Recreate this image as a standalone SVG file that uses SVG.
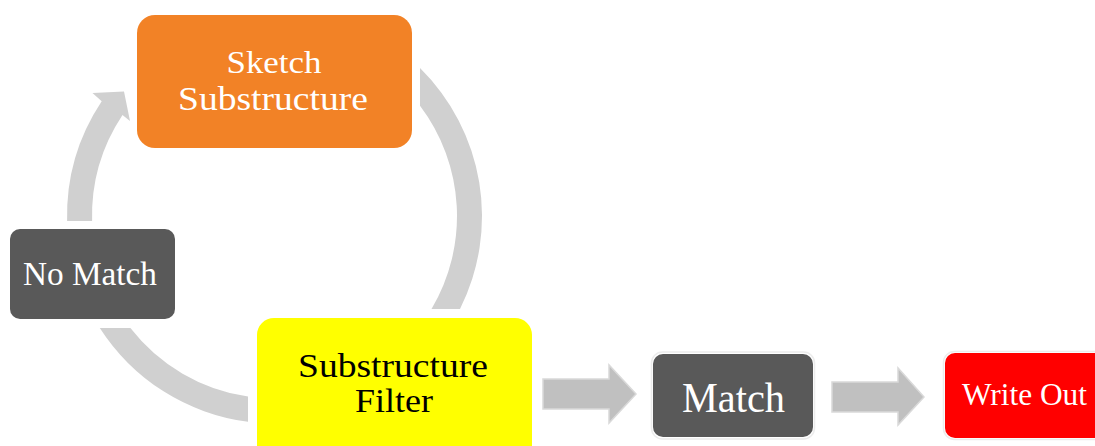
<svg xmlns="http://www.w3.org/2000/svg" width="1095" height="446" viewBox="0 0 1095 446">
  <style>
    .ring { fill: #d0d0d0; }
    .flow { fill: #c0c0c0; stroke: #d9d9d9; stroke-width: 1.5; stroke-linejoin: miter; }
    .lbl { font-family: "Liberation Serif", "Times New Roman", serif; text-anchor: middle; }
    .light { fill: #ffffff; }
    .dark { fill: #000000; }
    .halo { fill: none; stroke: #ececec; stroke-width: 1.5; }
  </style>

  <rect width="1095" height="446" fill="#ffffff"/>

  <!-- cycle ring segments and the straight flow arrows -->
  <g id="connectors">
    <!-- right arc: Sketch Substructure down to Substructure Filter -->
    <path class="ring" d="M420,68.1 A207.5,207.5 0 0 1 460,309 L431.5,309 A182.5,182.5 0 0 0 420,105.8 Z"/>
    <!-- bottom-left arc: Substructure Filter back to No Match -->
    <path class="ring" d="M99.8,328 A207.5,207.5 0 0 0 248,421.8 L248,396.6 A182.5,182.5 0 0 1 130.4,328 Z"/>
    <!-- upper-left arc with arrowhead: No Match up to Sketch Substructure -->
    <path class="ring" d="M67.1,221 A207.5,207.5 0 0 1 101.7,101.2 L92.5,93 L124,91.5 L130,121 L122.5,115 A182.5,182.5 0 0 0 92.1,221 Z"/>
    <!-- Substructure Filter to Match -->
    <path class="flow" d="M543,379 L609,379 L609,365 L636,394 L609,423 L609,409 L543,409 Z"/>
    <!-- Match to Write Out -->
    <path class="flow" d="M832,382 L898,382 L898,368 L924,397 L898,425 L898,412 L832,412 Z"/>
  </g>

  <g id="sketch-substructure">
    <rect x="137" y="15" width="275" height="133" rx="18" fill="#f28226"/>
    <text class="lbl light" x="274" y="73" font-size="32" textLength="95" lengthAdjust="spacingAndGlyphs">Sketch</text>
    <text class="lbl light" x="273" y="110" font-size="33" textLength="190" lengthAdjust="spacingAndGlyphs">Substructure</text>
  </g>

  <g id="no-match">
    <rect x="10" y="229" width="165" height="90" rx="10" fill="#595959"/>
    <text class="lbl light" x="90" y="285" font-size="34" textLength="134" lengthAdjust="spacingAndGlyphs">No Match</text>
  </g>

  <g id="substructure-filter">
    <rect x="257" y="318" width="275" height="150" rx="17" fill="#ffff00"/>
    <text class="lbl dark" x="393" y="377" font-size="33" textLength="190" lengthAdjust="spacingAndGlyphs">Substructure</text>
    <text class="lbl dark" x="394" y="412" font-size="33" textLength="78" lengthAdjust="spacingAndGlyphs">Filter</text>
  </g>

  <g id="match">
    <rect class="halo" x="651.5" y="352" width="163" height="87" rx="11"/>
    <rect x="653" y="354" width="160" height="83" rx="10" fill="#595959"/>
    <text class="lbl light" x="733.5" y="412" font-size="42" textLength="103" lengthAdjust="spacingAndGlyphs">Match</text>
  </g>

  <g id="write-out">
    <rect class="halo" x="943.5" y="351.5" width="170" height="88" rx="11"/>
    <rect x="945" y="353" width="170" height="85" rx="10" fill="#ff0000"/>
    <text class="lbl light" x="1024.5" y="405" font-size="31" textLength="125" lengthAdjust="spacingAndGlyphs">Write Out</text>
  </g>
</svg>
